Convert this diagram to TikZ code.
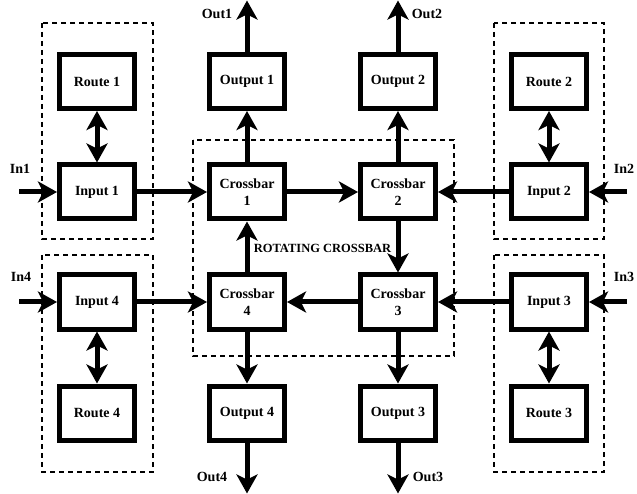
\documentclass[tikz,border=0pt]{standalone}
\usepackage{fontspec}
\setmainfont{Liberation Serif}
\usetikzlibrary{arrows.meta}
\tikzset{
  blk/.style={draw, line width=5pt, minimum width=75pt, minimum height=54pt, inner sep=0pt, outer sep=2.5pt, align=center, font=\fontsize{14}{17}\selectfont\bfseries, fill=white},
  conn/.style={line width=5pt, -{Stealth[length=19pt, width=21pt, inset=5pt]}},
  dconn/.style={line width=5pt, {Stealth[length=19pt, width=21pt, inset=5pt]}-{Stealth[length=19pt, width=21pt, inset=5pt]}},
  grp/.style={draw, line width=1.3pt, dash pattern=on 5pt off 4pt},
  lbl/.style={font=\fontsize{14}{17}\selectfont\bfseries, inner sep=0pt},
}
\begin{document}
\begin{tikzpicture}[x=1pt,y=-1pt]
\useasboundingbox (0,0) rectangle (637,494);
% group boxes
\draw[grp] (42,23) rectangle (153,239);
\draw[grp] (494,23) rectangle (604,239);
\draw[grp] (42,255) rectangle (153,472);
\draw[grp] (494,255) rectangle (604,472);
\draw[grp] (193,140) rectangle (454,356);
% blocks
\node[blk] (r1) at (97,81.5) {Route 1};
\node[blk] (i1) at (97,192) {Input 1};
\node[blk] (o1) at (247,81.5) {Output 1};
\node[blk] (c1) at (247,192) {Crossbar\\1};
\node[blk] (o2) at (398,81.5) {Output 2};
\node[blk] (c2) at (398,192) {Crossbar\\2};
\node[blk] (r2) at (549,81.5) {Route 2};
\node[blk] (i2) at (549,192) {Input 2};
\node[blk] (i4) at (97,302) {Input 4};
\node[blk] (r4) at (97,413) {Route 4};
\node[blk] (c4) at (247,302) {Crossbar\\4};
\node[blk] (o4) at (247,413) {Output 4};
\node[blk] (c3) at (398,302) {Crossbar\\3};
\node[blk] (o3) at (398,413) {Output 3};
\node[blk] (i3) at (549,302) {Input 3};
\node[blk] (r3) at (549,413) {Route 3};
% free ends
\coordinate (in1) at (19,192);
\coordinate (in2) at (627,192);
\coordinate (in3) at (627,302);
\coordinate (in4) at (19,302);
\coordinate (out1) at (247,0.5);
\coordinate (out2) at (398,0.5);
\coordinate (out3) at (398,493.5);
\coordinate (out4) at (247,493.5);
% connectors
\draw[conn] (in1) -- (i1.west);
\draw[conn] (i1) -- (c1.west);
\draw[conn] (c1) -- (c2.west);
\draw[conn] (i2) -- (c2.east);
\draw[conn] (in2) -- (i2.east);
\draw[conn] (c2) -- (c3.north);
\draw[conn] (in3) -- (i3.east);
\draw[conn] (i3) -- (c3.east);
\draw[conn] (c3) -- (c4.east);
\draw[conn] (in4) -- (i4.west);
\draw[conn] (i4) -- (c4.west);
\draw[conn] (c4) -- (c1.south);
\draw[conn] (c1) -- (o1.south);
\draw[conn] (o1) -- (out1);
\draw[conn] (c2) -- (o2.south);
\draw[conn] (o2) -- (out2);
\draw[conn] (c3) -- (o3.north);
\draw[conn] (o3) -- (out3);
\draw[conn] (c4) -- (o4.north);
\draw[conn] (o4) -- (out4);
\draw[dconn] (r1.south) -- (i1.north);
\draw[dconn] (r2.south) -- (i2.north);
\draw[dconn] (i3.south) -- (r3.north);
\draw[dconn] (i4.south) -- (r4.north);
% labels
\node[lbl] (l1) at (20,169) {In1};
\node[lbl] (l2) at (624,169) {In2};
\node[lbl] (l3) at (624,277) {In3};
\node[lbl] (l4) at (21,277) {In4};
\node[lbl] (lo1) at (217,14) {Out1};
\node[lbl] (lo2) at (427,14) {Out2};
\node[lbl] (lo3) at (428,477) {Out3};
\node[lbl] (lo4) at (212,477) {Out4};
\node[inner sep=0pt, font=\fontsize{12.5}{15}\selectfont\bfseries] (rot) at (322.5,248) {ROTATING CROSSBAR};
\end{tikzpicture}
\end{document}
